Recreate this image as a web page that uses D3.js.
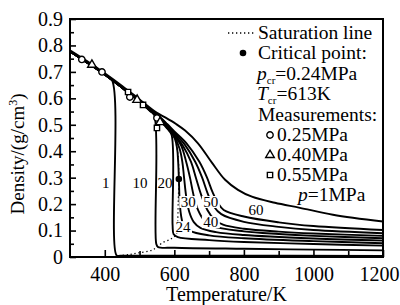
<!DOCTYPE html>
<html>
<head>
<meta charset="utf-8">
<script src="https://cdn.jsdelivr.net/npm/d3@7"></script>
<style>
body{margin:0;background:#fff;}
svg{display:block;font-family:"Liberation Serif","Times New Roman",serif;}
</style>
</head>
<body>
<div id="chart"></div>
<script>
//isobars, [T (K), density (g/cm3)]
const liquid = [[300,0.778],[350,0.735],[400,0.690],[450,0.640],[500,0.588]]
const p1 = [[300,0.778],[350,0.735],[400,0.690],[421,0.668],[434,0.006],[445,0.005],[700,0.005],[1200,0.004]]
const p10 = [...liquid,[530,0.552],[542,0.538],[548,0.050],[553,0.038],[600,0.035],[800,0.031],[1000,0.028],[1200,0.025]]
const p20 = [...liquid,[540,0.542],[560,0.515],[580,0.485],[592,0.462],[595,0.12],[598,0.086],[610,0.075],[700,0.064],[800,0.057],[1000,0.049],[1200,0.043]]
const p24 = [...liquid,[540,0.543],[560,0.517],[580,0.488],[600,0.452],[608,0.41],[611,0.36],[613,0.30],[615,0.22],[619,0.16],[626,0.122],[645,0.099],[700,0.082],[800,0.071],[1000,0.060],[1200,0.052]]
const p30 = [...liquid,[540,0.544],[560,0.520],[580,0.490],[600,0.456],[615,0.41],[623,0.36],[628,0.30],[634,0.23],[643,0.17],[656,0.132],[675,0.110],[720,0.094],[800,0.083],[1000,0.070],[1200,0.062]]
const p35 = [...liquid,[540,0.545],[560,0.522],[580,0.493],[600,0.460],[620,0.42],[634,0.36],[645,0.30],[656,0.23],[669,0.175],[686,0.138],[710,0.117],[800,0.097],[900,0.087],[1000,0.080],[1200,0.071]]
const p40 = [...liquid,[540,0.546],[560,0.524],[580,0.496],[600,0.465],[625,0.42],[648,0.36],[662,0.30],[678,0.232],[695,0.178],[715,0.142],[740,0.122],[800,0.107],[900,0.096],[1000,0.089],[1200,0.080]]
const p45 = [...liquid,[540,0.547],[560,0.526],[580,0.499],[600,0.470],[630,0.425],[660,0.36],[680,0.30],[696,0.24],[713,0.192],[735,0.162],[800,0.133],[900,0.114],[1000,0.102],[1200,0.090]]
const p50 = [...liquid,[540,0.548],[560,0.528],[580,0.502],[600,0.475],[635,0.43],[672,0.36],[694,0.30],[710,0.245],[726,0.203],[742,0.178],[800,0.153],[900,0.131],[1000,0.117],[1200,0.102]]
const p60 = [[300,0.782],[350,0.740],[400,0.695],[450,0.647],[500,0.596],[550,0.545],[575,0.527],[605,0.503],[631,0.478],[668,0.43],[708,0.357],[746,0.292],[783,0.254],[823,0.228],[889,0.205],[961,0.186],[1056,0.160],[1200,0.134]]
const saturation = [[421,0.668],[480,0.610],[542,0.538],[580,0.485],[600,0.450],[610,0.39],[613,0.30],[611,0.20],[609,0.12],[605,0.085],[590,0.068],[567,0.055],[548,0.036],[536,0.026],[495,0.015],[470,0.009],[440,0.005]]

//measurements
const circT = [334, 392, 472, 550], circD = [0.747, 0.700, 0.605, 0.526]
const triT = [363, 493, 559], triD = [0.727, 0.594, 0.510]
const sqT = [467, 510, 550], sqD = [0.624, 0.575, 0.488]
const critical = [613, 0.295]

//curve labels [text, T, density]
const curveLabels = [["1",403,0.28],["10",501,0.28],["20",573,0.28],["24",625,0.113],["30",640,0.208],["40",705,0.132],["50",705,0.208],["60",835,0.18]]
const yTicks = [0,0.1,0.2,0.3,0.4,0.5,0.6,0.7,0.8,0.9]
const yMinor = [0.05,0.15,0.25,0.35,0.45,0.55,0.65,0.75,0.85]
const xTicks = [400,600,800,1000,1200]
const xMinor = [500,700,900,1100]

const W = 400, H = 305
const margin = {top:19, right:17, bottom:48, left:70}

const svg = d3.select("#chart").append("svg")
    .attr("width", W).attr("height", H)

const x = d3.scaleLinear().domain([300,1200]).range([margin.left, W-margin.right])
const y = d3.scaleLinear().domain([0,0.9]).range([H-margin.bottom, margin.top])

svg.append("clipPath").attr("id","plot")
    .append("rect")
    .attr("x", margin.left).attr("y", margin.top)
    .attr("width", x(1200)-x(300)).attr("height", y(0)-y(0.9))

const line = d3.line()
    .x(d=>x(d[0])).y(d=>y(d[1]))
    .curve(d3.curveCatmullRom.alpha(0.5))

const g = svg.append("g").attr("clip-path","url(#plot)")

g.append("path")
    .datum(saturation)
    .attr("d", line)
    .attr("fill","none").attr("stroke","#000")
    .attr("stroke-width",1.3)
    .attr("stroke-dasharray","1.3,2.7")

g.selectAll("path.iso")
    .data([p1,p10,p20,p24,p30,p35,p40,p45,p50,p60])
    .enter().append("path")
    .classed("iso",true)
    .attr("d", line)
    .attr("fill","none").attr("stroke","#000")
    .attr("stroke-width",1.9)
    .attr("stroke-linejoin","round")

//labels sit on a white patch so they cut the lines
const lab = svg.selectAll("g.clab").data(curveLabels).enter()
    .append("g").classed("clab",true)
    .attr("transform", d=>`translate(${x(d[1])},${y(d[2])})`)
lab.filter(d=>["24","30","40","50"].includes(d[0]))
    .append("rect")
    .attr("x", d=>-d[0].length*4-1).attr("y",-6)
    .attr("width", d=>d[0].length*8+2).attr("height",12)
    .attr("fill","#fff")
lab.append("text")
    .attr("text-anchor","middle")
    .attr("dy","0.35em")
    .style("font-size","15px")
    .text(d=>d[0])

//measurement markers
function drawMarkers(ts, ds, type){
    const sym = d3.symbol().type(type).size(type===d3.symbolSquare?28:32)
    svg.selectAll(null).data(ts.map((t,i)=>[t,ds[i]])).enter()
        .append("path")
        .attr("transform", d=>`translate(${x(d[0])},${y(d[1])})`)
        .attr("d", sym)
        .attr("fill","#fff").attr("stroke","#000").attr("stroke-width",1.4)
}
drawMarkers(circT, circD, d3.symbolCircle)
drawMarkers(triT, triD, d3.symbolTriangle)
drawMarkers(sqT, sqD, d3.symbolSquare)

svg.append("circle")
    .attr("cx", x(critical[0])).attr("cy", y(critical[1]))
    .attr("r",3.3).attr("fill","#000")

//axes
svg.append("g")
    .attr("transform",`translate(${margin.left},0)`)
    .call(d3.axisLeft(y).tickValues(yTicks).tickSize(-6).tickPadding(7)
        .tickFormat(d=> d===0 ? "0" : d3.format(".1f")(d)))
svg.append("g")
    .attr("transform",`translate(${margin.left},0)`)
    .call(d3.axisLeft(y).tickValues(yMinor).tickSize(-4).tickFormat(""))

const xAxis = svg.append("g")
    .attr("transform",`translate(0,${H-margin.bottom})`)
    .call(d3.axisBottom(x).tickValues(xTicks).tickSize(-7).tickPadding(10).tickFormat(d=>d))
svg.append("g")
    .attr("transform",`translate(0,${H-margin.bottom})`)
    .call(d3.axisBottom(x).tickValues(xMinor).tickSize(-6).tickFormat(""))
xAxis.selectAll(".tick text").filter(d=>d===1200).attr("dx",-4)

svg.selectAll(".domain").remove()
svg.selectAll(".tick line").attr("stroke","#000").attr("stroke-width",1.6)
svg.selectAll(".tick text")
    .style("font-family",'"Liberation Serif",serif')
    .style("font-size","20px").attr("fill","#000")

svg.append("rect")
    .attr("x", margin.left).attr("y", margin.top)
    .attr("width", x(1200)-x(300)).attr("height", y(0)-y(0.9))
    .attr("fill","none").attr("stroke","#000").attr("stroke-width",2)

svg.append("text")
    .attr("x", (x(300)+x(1200))/2).attr("y", 301)
    .attr("text-anchor","middle")
    .style("font-size","20px")
    .text("Temperature/K")

const yt = svg.append("text")
    .attr("transform",`translate(24,154) rotate(-90)`)
    .attr("text-anchor","middle")
    .style("font-size","19px")
yt.append("tspan").text("Density/(g/cm")
yt.append("tspan").attr("dy",-7).style("font-size","12px").text("3")
yt.append("tspan").attr("dy",7).text(")")

//legend
const leg = svg.append("g").style("font-size","19.5px")
leg.append("line")
    .attr("x1",228).attr("x2",255).attr("y1",33).attr("y2",33)
    .attr("stroke","#000").attr("stroke-width",1.3).attr("stroke-dasharray","1.3,2.7")
leg.append("text").attr("x",258).attr("y",39).text("Saturation line")
leg.append("circle").attr("cx",243).attr("cy",53).attr("r",3.3).attr("fill","#000")
leg.append("text").attr("x",258).attr("y",59).text("Critical point:")

const pcr = leg.append("text").attr("x",257).attr("y",80)
pcr.append("tspan").style("font-style","italic").text("p")
pcr.append("tspan").attr("dy",4).style("font-size","11px").text("cr")
pcr.append("tspan").attr("dy",-4).text("=0.24MPa")

const tcr = leg.append("text").attr("x",257).attr("y",100)
tcr.append("tspan").style("font-style","italic").text("T")
tcr.append("tspan").attr("dy",4).style("font-size","11px").text("cr")
tcr.append("tspan").attr("dy",-4).text("=613K")

leg.append("text").attr("x",258).attr("y",121).text("Measurements:")

const legMarks = [[d3.symbolCircle,"0.25MPa",135],[d3.symbolTriangle,"0.40MPa",155],[d3.symbolSquare,"0.55MPa",175]]
legMarks.forEach(m=>{
    leg.append("path")
        .attr("transform",`translate(270,${m[2]})`)
        .attr("d", d3.symbol().type(m[0]).size(m[0]===d3.symbolSquare?28:32))
        .attr("fill","#fff").attr("stroke","#000").attr("stroke-width",1.4)
    leg.append("text").attr("x",277).attr("y",m[2]+6).text(m[1])
})
const pl = leg.append("text").attr("x",298).attr("y",201)
pl.append("tspan").style("font-style","italic").text("p")
pl.append("tspan").text("=1MPa")
</script>
</body>
</html>
